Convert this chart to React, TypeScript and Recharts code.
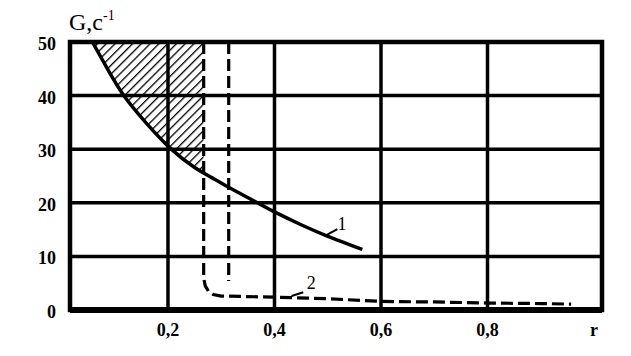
import React from "react";
import {
  ComposedChart,
  Line,
  Area,
  XAxis,
  YAxis,
  ReferenceLine,
  ReferenceArea,
  ReferenceDot,
} from "recharts";

// curve 1: solid
const curve1R = [0.058, 0.085, 0.117, 0.158, 0.204, 0.25, 0.282, 0.312, 0.368, 0.4, 0.45, 0.499, 0.565];
const curve1G = [50, 45.2, 40, 35, 30.2, 26.6, 24.7, 23.0, 20, 18.3, 15.9, 13.8, 11.3];

// hatched zone between curve 1 and the top, left of the dashed line
const hatchR = [0.058, 0.085, 0.117, 0.158, 0.204, 0.25, 0.267];
const hatchG = [50, 45.2, 40, 35, 30.2, 26.6, 25.6];
const hatchTop = 50;

// curve 2: dashed
const curve2R = [0.267, 0.267, 0.27, 0.276, 0.285, 0.3, 0.4, 0.5, 0.6, 0.7, 0.8, 0.9, 0.957];
const curve2G = [50, 6, 4.5, 3.5, 2.9, 2.6, 2.4, 2.1, 1.6, 1.5, 1.3, 1.2, 1.1];

// second dashed vertical
const curve2bR = [0.314, 0.314];
const curve2bG = [50, 5.4];

const xTicks = [0.2, 0.4, 0.6, 0.8, 1.0];
const xTickLabels = ["0,2", "0,4", "0,6", "0,8", "r"];
const xGrid = [0.2, 0.4, 0.6, 0.8];
const yTicks = [0, 10, 20, 30, 40, 50];
const yGrid = [10, 20, 30, 40];
const xDomain = [0.016, 1.015];
const yDomain = [0, 50];

const curve1Data = curve1R.map((r, i) => ({ r, G: curve1G[i] }));
const hatchData = hatchR.map((r, i) => ({ r, band: [hatchG[i], hatchTop] }));
const curve2Data = curve2R.map((r, i) => ({ r, G: curve2G[i] }));
const curve2bData = curve2bR.map((r, i) => ({ r, G: curve2bG[i] }));

const serif = '"Liberation Serif", "Times New Roman", serif';

const XTick = (props: any) => {
  const idx = xTicks.indexOf(props.payload.value);
  return (
    <text x={props.x} y={props.y + 26} textAnchor="middle" fontFamily={serif} fontWeight="bold" fontSize={18} fill="#000">
      {xTickLabels[idx]}
    </text>
  );
};

const YTick = (props: any) => (
  <text x={props.x} y={props.y + 8} textAnchor="end" fontFamily={serif} fontWeight="bold" fontSize={18} fill="#000">
    {props.payload.value}
  </text>
);

const YTitle = (props: any) => {
  const vb = props.viewBox || { x: 0, y: 42 };
  return (
    <text x={vb.x + 69} y={vb.y - 12} fontFamily={serif} fontSize={24} fill="#000">
      G,c
      <tspan dy={-10} fontSize={14}>-1</tspan>
    </text>
  );
};

const TagLabel = (text: string) => (props: any) => (
  <text x={props.cx} y={props.cy + 6} textAnchor="middle" fontFamily={serif} fontSize={18} fill="#000">
    {text}
  </text>
);

export default function App() {
  return (
    <div style={{ position: "absolute", left: 0, top: 0, width: 631, height: 356, background: "#fff" }}>
      <ComposedChart width={631} height={356} margin={{ top: 42, right: 29, bottom: 0, left: 0 }}>
        <defs>
          <pattern id="hatch" width="6.2" height="6.2" patternUnits="userSpaceOnUse" patternTransform="rotate(45)">
            <line x1="0" y1="0" x2="0" y2="6.2" stroke="#000" strokeWidth={2.6} />
          </pattern>
        </defs>
        <XAxis
          dataKey="r"
          type="number"
          domain={xDomain}
          ticks={xTicks}
          allowDataOverflow
          height={46}
          tickSize={0}
          tickMargin={0}
          tickLine={false}
          axisLine={{ stroke: "#000", strokeWidth: 6 }}
          tick={<XTick />}
        />
        <YAxis
          type="number"
          domain={yDomain}
          ticks={yTicks}
          allowDataOverflow
          width={70}
          tickSize={0}
          tickMargin={14}
          tickLine={false}
          axisLine={false}
          tick={<YTick />}
          label={{ content: <YTitle /> }}
        />
        {xGrid.map((v) => (
          <ReferenceLine key={"x" + v} x={v} stroke="#000" strokeWidth={3.5} />
        ))}
        {yGrid.map((v) => (
          <ReferenceLine key={"y" + v} y={v} stroke="#000" strokeWidth={3.5} />
        ))}
        <ReferenceArea
          x1={xDomain[0]}
          x2={xDomain[1]}
          y1={yDomain[0]}
          y2={yDomain[1]}
          fill="none"
          fillOpacity={0}
          stroke="#000"
          strokeWidth={4.5}
        />
        <Area
          data={hatchData}
          dataKey="band"
          type="natural"
          stroke="none"
          fill="url(#hatch)"
          fillOpacity={1}
          isAnimationActive={false}
        />
        <Line data={curve1Data} dataKey="G" type="natural" stroke="#000" strokeWidth={3.5} dot={false} isAnimationActive={false} />
        <Line data={curve2Data} dataKey="G" type="linear" stroke="#000" strokeWidth={3.2} strokeDasharray="12 5" dot={false} isAnimationActive={false} />
        <Line data={curve2bData} dataKey="G" type="linear" stroke="#000" strokeWidth={3.2} strokeDasharray="12 5" dot={false} isAnimationActive={false} />
        <ReferenceLine segment={[{ x: 0.494, y: 13.8 }, { x: 0.518, y: 15.1 }]} stroke="#000" strokeWidth={2} />
        <ReferenceLine segment={[{ x: 0.432, y: 2.6 }, { x: 0.454, y: 3.3 }]} stroke="#000" strokeWidth={2} />
        <ReferenceDot x={0.527} y={16} r={0} shape={TagLabel("1")} />
        <ReferenceDot x={0.469} y={5} r={0} shape={TagLabel("2")} />
      </ComposedChart>
    </div>
  );
}
